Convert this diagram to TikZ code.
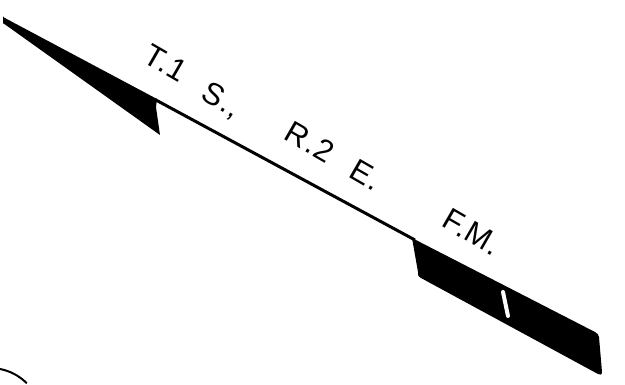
\documentclass[tikz,border=0pt]{standalone}
\usepackage{fontspec}
\setmainfont{Liberation Sans}
\newfontfamily\lblfont[LetterSpace=3]{Liberation Sans}
\begin{document}
\begin{tikzpicture}[x=1pt,y=-1pt,
  lbl/.style={font=\lblfont\fontsize{31}{34}\selectfont, rotate=-30, inner sep=0pt}]
\useasboundingbox (0,0) rectangle (625,384);
% left wedge
\fill (3,17) -- (157,99) -- (156,107) -- (160,135) -- (3,23) -- cycle;
\draw[line cap=round, line width=1pt] (3,17) -- (3,23);
% thin line
\draw[line width=3pt] (155,99.5) -- (415,240);
% right band
\fill (412,238) -- (595,332) .. controls (598,334) .. (599,337) -- (602,372)
  .. controls (602,375) and (600,375) .. (598,374) -- (421,278)
  .. controls (418,276) .. (418,272) -- cycle;
% white slot
\draw[white, line width=4pt, line cap=round] (503,292) -- (508,316);
% bottom-left arc
\draw[line width=2pt] (-10,420) ++(-80:52) arc (-80:-45:52);
% labels
\node[lbl] (t1) at (166,63) {T.1};
\node[lbl] (s) at (221,101) {S.,};
\node[lbl] (r2) at (310,142) {R.2};
\node[lbl] (e) at (366,175) {E.};
\node[lbl] (fm) at (472,232) {F.M.};
\end{tikzpicture}
\end{document}
